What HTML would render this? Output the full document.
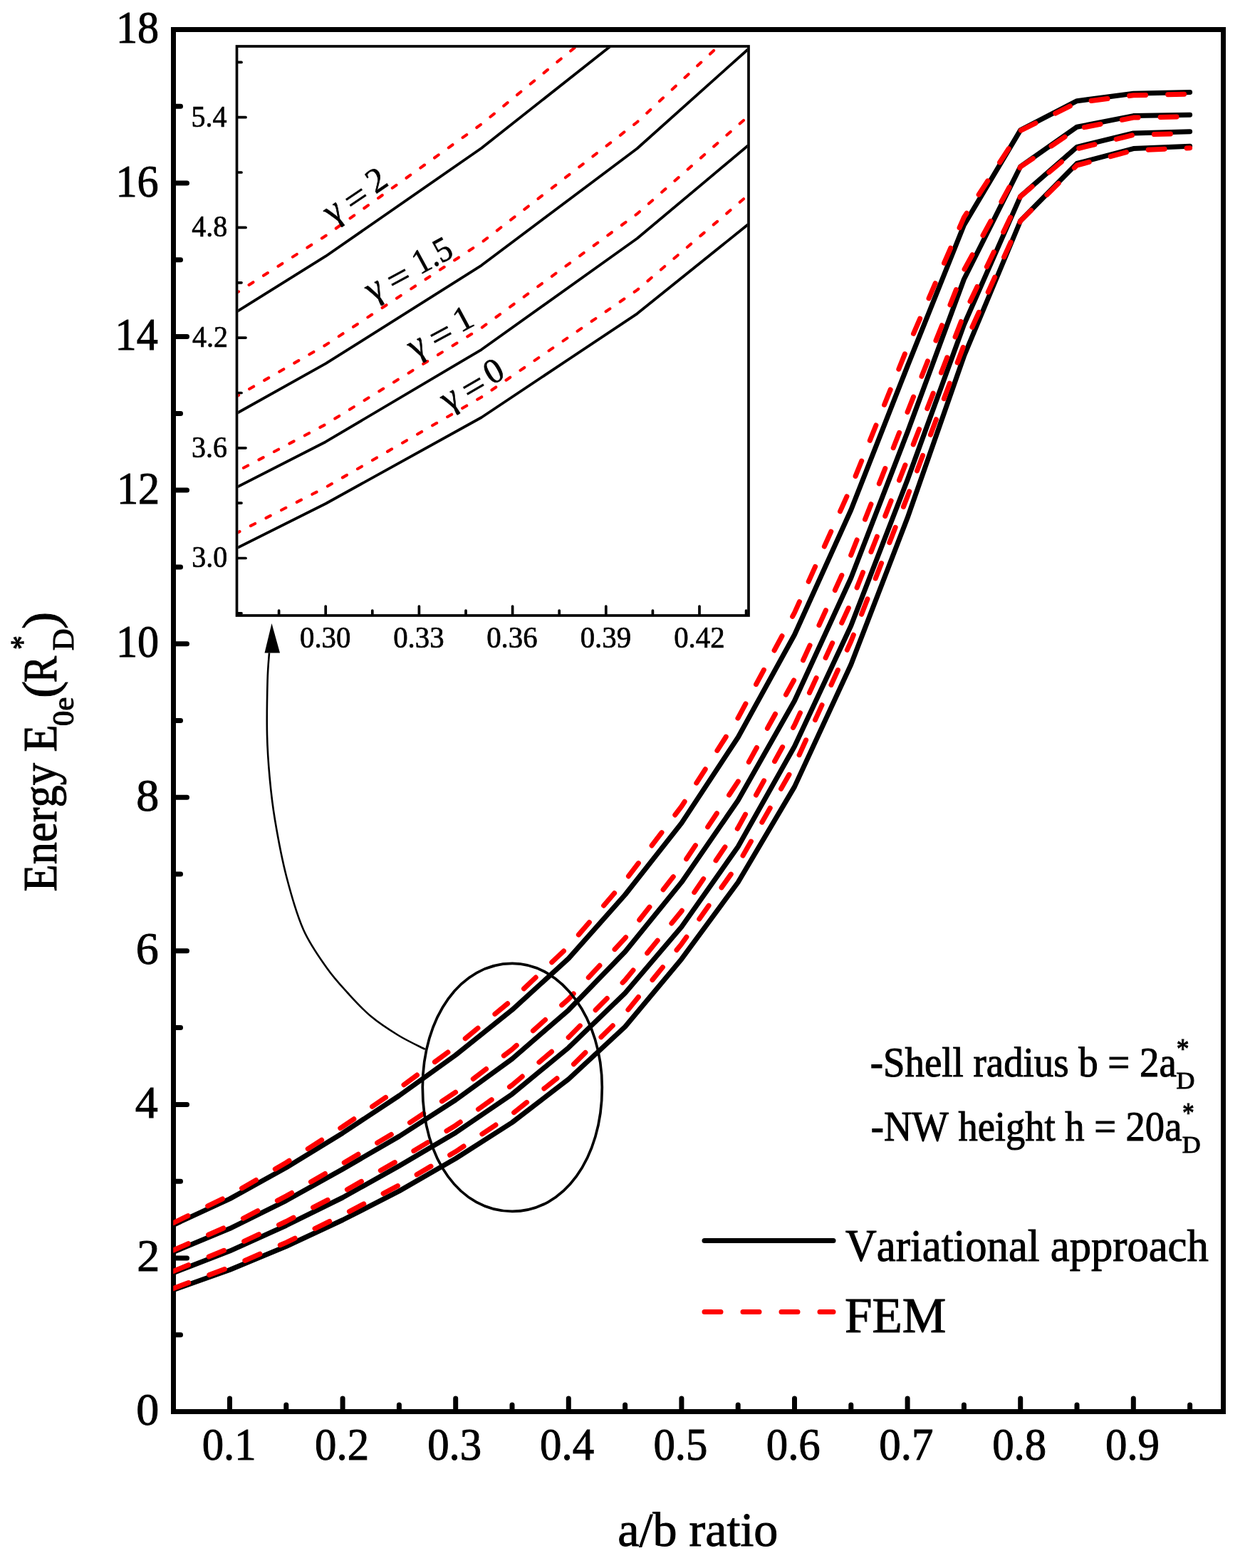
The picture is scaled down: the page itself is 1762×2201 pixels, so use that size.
<!DOCTYPE html><html><head><meta charset="utf-8"><style>html,body{margin:0;padding:0;background:#fff;overflow:hidden}svg{display:block}</style></head><body><svg xmlns="http://www.w3.org/2000/svg" width="1762" height="2201" viewBox="0 0 1762 2201">
<defs><clipPath id="ic"><rect x="334.3" y="66.8" width="714.9" height="795.4"/></clipPath><clipPath id="mc"><rect x="243.2" y="0" width="1500" height="2201"/></clipPath></defs>
<rect width="1762" height="2201" fill="#fff"/>
<g stroke="#000" stroke-width="7" fill="none">
<rect x="243.5" y="41.5" width="1474" height="1940"/>
<line x1="322.5" y1="1978" x2="322.5" y2="1963" stroke-linecap="round"/>
<line x1="481.1" y1="1978" x2="481.1" y2="1963" stroke-linecap="round"/>
<line x1="639.7" y1="1978" x2="639.7" y2="1963" stroke-linecap="round"/>
<line x1="798.3" y1="1978" x2="798.3" y2="1963" stroke-linecap="round"/>
<line x1="956.9" y1="1978" x2="956.9" y2="1963" stroke-linecap="round"/>
<line x1="1115.5" y1="1978" x2="1115.5" y2="1963" stroke-linecap="round"/>
<line x1="1274.1" y1="1978" x2="1274.1" y2="1963" stroke-linecap="round"/>
<line x1="1432.7" y1="1978" x2="1432.7" y2="1963" stroke-linecap="round"/>
<line x1="1591.3" y1="1978" x2="1591.3" y2="1963" stroke-linecap="round"/>
<line x1="401.8" y1="1978" x2="401.8" y2="1972" stroke-linecap="round"/>
<line x1="560.4" y1="1978" x2="560.4" y2="1972" stroke-linecap="round"/>
<line x1="719.0" y1="1978" x2="719.0" y2="1972" stroke-linecap="round"/>
<line x1="877.6" y1="1978" x2="877.6" y2="1972" stroke-linecap="round"/>
<line x1="1036.2" y1="1978" x2="1036.2" y2="1972" stroke-linecap="round"/>
<line x1="1194.8" y1="1978" x2="1194.8" y2="1972" stroke-linecap="round"/>
<line x1="1353.4" y1="1978" x2="1353.4" y2="1972" stroke-linecap="round"/>
<line x1="1512.0" y1="1978" x2="1512.0" y2="1972" stroke-linecap="round"/>
<line x1="1670.6" y1="1978" x2="1670.6" y2="1972" stroke-linecap="round"/>
<line x1="247" y1="1873.7" x2="253.5" y2="1873.7" stroke-linecap="round"/>
<line x1="247" y1="1765.9" x2="262.5" y2="1765.9" stroke-linecap="round"/>
<line x1="247" y1="1658.2" x2="253.5" y2="1658.2" stroke-linecap="round"/>
<line x1="247" y1="1550.4" x2="262.5" y2="1550.4" stroke-linecap="round"/>
<line x1="247" y1="1442.6" x2="253.5" y2="1442.6" stroke-linecap="round"/>
<line x1="247" y1="1334.8" x2="262.5" y2="1334.8" stroke-linecap="round"/>
<line x1="247" y1="1227.0" x2="253.5" y2="1227.0" stroke-linecap="round"/>
<line x1="247" y1="1119.3" x2="262.5" y2="1119.3" stroke-linecap="round"/>
<line x1="247" y1="1011.5" x2="253.5" y2="1011.5" stroke-linecap="round"/>
<line x1="247" y1="903.7" x2="262.5" y2="903.7" stroke-linecap="round"/>
<line x1="247" y1="795.9" x2="253.5" y2="795.9" stroke-linecap="round"/>
<line x1="247" y1="688.1" x2="262.5" y2="688.1" stroke-linecap="round"/>
<line x1="247" y1="580.4" x2="253.5" y2="580.4" stroke-linecap="round"/>
<line x1="247" y1="472.6" x2="262.5" y2="472.6" stroke-linecap="round"/>
<line x1="247" y1="364.8" x2="253.5" y2="364.8" stroke-linecap="round"/>
<line x1="247" y1="257.0" x2="262.5" y2="257.0" stroke-linecap="round"/>
<line x1="247" y1="149.2" x2="253.5" y2="149.2" stroke-linecap="round"/>
</g>
<g clip-path="url(#mc)" fill="none" stroke-linejoin="round" stroke-linecap="round">
<polyline points="243.2,1810.7 322.5,1782.5 401.8,1749.5 481.1,1712.5 560.4,1671.9 639.7,1626.2 719.0,1575.6 798.3,1514.7 877.6,1441.2 956.9,1346.2 1036.2,1238.5 1115.5,1104.4 1194.8,932.8 1274.1,726.8 1353.4,500.0 1432.7,310.0 1512.0,229.5 1591.3,208.6 1670.6,205.2" stroke="#000" stroke-width="7"/>
<polyline points="243.2,1786.7 322.5,1756.1 401.8,1720.2 481.1,1681.0 560.4,1636.6 639.7,1589.9 719.0,1535.8 798.3,1470.6 877.6,1394.0 956.9,1301.0 1036.2,1188.5 1115.5,1047.8 1194.8,878.3 1274.1,673.5 1353.4,455.9 1432.7,275.6 1512.0,206.4 1591.3,186.9 1670.6,184.7" stroke="#000" stroke-width="7"/>
<polyline points="243.2,1757.5 322.5,1724.6 401.8,1685.3 481.1,1641.1 560.4,1595.1 639.7,1544.0 719.0,1486.4 798.3,1417.8 877.6,1336.0 956.9,1238.4 1036.2,1123.5 1115.5,983.8 1194.8,811.3 1274.1,606.6 1353.4,392.0 1432.7,233.8 1512.0,178.2 1591.3,162.6 1670.6,161.2" stroke="#000" stroke-width="7"/>
<polyline points="243.2,1719.5 322.5,1682.9 401.8,1639.0 481.1,1590.4 560.4,1538.0 639.7,1481.0 719.0,1417.6 798.3,1345.4 877.6,1256.0 956.9,1155.4 1036.2,1035.0 1115.5,891.0 1194.8,715.7 1274.1,513.9 1353.4,316.0 1432.7,182.6 1512.0,141.7 1591.3,131.3 1670.6,129.5" stroke="#000" stroke-width="7"/>
<polyline points="243.2,1808.6 322.5,1778.8 401.8,1744.1 481.1,1705.6 560.4,1663.5 639.7,1616.6 719.0,1563.7 798.3,1500.8 877.6,1422.6 956.9,1325.1 1036.2,1213.1 1115.5,1074.1 1194.8,900.3 1274.1,696.8 1353.4,484.4 1432.7,310.0 1512.0,232.0 1591.3,211.1 1670.6,207.7" stroke="#f00" stroke-width="7" stroke-linecap="round" stroke-dasharray="23 31"/>
<polyline points="243.2,1784.4 322.5,1752.0 401.8,1714.5 481.1,1673.4 560.4,1628.1 639.7,1579.7 719.0,1523.1 798.3,1456.1 877.6,1375.8 956.9,1279.0 1036.2,1161.9 1115.5,1017.9 1194.8,846.0 1274.1,644.7 1353.4,441.1 1432.7,275.8 1512.0,208.9 1591.3,189.4 1670.6,187.2" stroke="#f00" stroke-width="7" stroke-linecap="round" stroke-dasharray="23 31"/>
<polyline points="243.2,1755.0 322.5,1720.1 401.8,1678.9 481.1,1633.3 560.4,1585.8 639.7,1533.1 719.0,1473.0 798.3,1402.3 877.6,1316.9 956.9,1215.9 1036.2,1097.1 1115.5,953.3 1194.8,779.0 1274.1,578.2 1353.4,379.0 1432.7,234.2 1512.0,180.7 1591.3,165.1 1670.6,163.7" stroke="#f00" stroke-width="7" stroke-linecap="round" stroke-dasharray="23 31"/>
<polyline points="243.2,1716.7 322.5,1677.9 401.8,1632.0 481.1,1581.5 560.4,1527.6 639.7,1469.0 719.0,1403.5 798.3,1328.5 877.6,1236.3 956.9,1131.9 1036.2,1007.8 1115.5,860.1 1194.8,683.9 1274.1,487.7 1353.4,305.1 1432.7,183.3 1512.0,144.2 1591.3,133.8 1670.6,132.0" stroke="#f00" stroke-width="7" stroke-linecap="round" stroke-dasharray="23 31"/>
</g>
<g font-family="Liberation Serif, 'Times New Roman', serif" fill="#000" stroke="#000" stroke-width="1.0" style="font-kerning:none">
<text x="191.24" y="2000.00" font-size="64" textLength="32.00" lengthAdjust="spacingAndGlyphs">0</text>
<text x="192.33" y="1784.44" font-size="64" textLength="32.00" lengthAdjust="spacingAndGlyphs">2</text>
<text x="189.80" y="1568.88" font-size="64" textLength="32.00" lengthAdjust="spacingAndGlyphs">4</text>
<text x="190.71" y="1353.32" font-size="64" textLength="32.00" lengthAdjust="spacingAndGlyphs">6</text>
<text x="191.24" y="1137.76" font-size="64" textLength="32.00" lengthAdjust="spacingAndGlyphs">8</text>
<text x="162.93" y="922.20" font-size="64" textLength="60.16" lengthAdjust="spacingAndGlyphs">10</text>
<text x="163.96" y="706.64" font-size="64" textLength="60.16" lengthAdjust="spacingAndGlyphs">12</text>
<text x="161.58" y="491.08" font-size="64" textLength="60.16" lengthAdjust="spacingAndGlyphs">14</text>
<text x="162.43" y="275.52" font-size="64" textLength="60.16" lengthAdjust="spacingAndGlyphs">16</text>
<text x="162.93" y="59.96" font-size="64" textLength="60.16" lengthAdjust="spacingAndGlyphs">18</text>
<text x="283.67" y="2049.00" font-size="64" textLength="76.00" lengthAdjust="spacingAndGlyphs">0.1</text>
<text x="442.12" y="2049.00" font-size="64" textLength="76.00" lengthAdjust="spacingAndGlyphs">0.2</text>
<text x="600.23" y="2049.00" font-size="64" textLength="76.00" lengthAdjust="spacingAndGlyphs">0.3</text>
<text x="758.12" y="2049.00" font-size="64" textLength="76.00" lengthAdjust="spacingAndGlyphs">0.4</text>
<text x="917.43" y="2049.00" font-size="64" textLength="76.00" lengthAdjust="spacingAndGlyphs">0.5</text>
<text x="1075.75" y="2049.00" font-size="64" textLength="76.00" lengthAdjust="spacingAndGlyphs">0.6</text>
<text x="1234.32" y="2049.00" font-size="64" textLength="76.00" lengthAdjust="spacingAndGlyphs">0.7</text>
<text x="1393.20" y="2049.00" font-size="64" textLength="76.00" lengthAdjust="spacingAndGlyphs">0.8</text>
<text x="1551.89" y="2049.00" font-size="64" textLength="76.00" lengthAdjust="spacingAndGlyphs">0.9</text>
<text x="867.31" y="2170.30" font-size="68.3" textLength="225.09" lengthAdjust="spacingAndGlyphs">a/b ratio</text>
<g transform="rotate(-90)">
<text x="-1251.50" y="79.00" font-size="68.3" textLength="234.21" lengthAdjust="spacingAndGlyphs">Energy E</text>
<text x="-1019.24" y="103.00" font-size="43" textLength="40.74" lengthAdjust="spacingAndGlyphs">0e</text>
<text x="-979.90" y="80.00" font-size="70" textLength="24.25" lengthAdjust="spacingAndGlyphs">(</text>
<text x="-958.32" y="79.00" font-size="68.3" textLength="37.40" lengthAdjust="spacingAndGlyphs">R</text>
<text x="-911.94" y="47.18" font-size="46" textLength="19.84" lengthAdjust="spacingAndGlyphs">*</text>
<text x="-913.23" y="103.00" font-size="43" textLength="30.95" lengthAdjust="spacingAndGlyphs">D</text>
<text x="-883.05" y="80.00" font-size="70" textLength="24.25" lengthAdjust="spacingAndGlyphs">)</text>
</g>
<text x="1221.87" y="1511.00" font-size="58.5" textLength="429.88" lengthAdjust="spacingAndGlyphs">-Shell radius b = 2a</text>
<text x="1651.67" y="1484.54" font-size="39" textLength="17.73" lengthAdjust="spacingAndGlyphs">*</text>
<text x="1651.57" y="1528.30" font-size="33.3" textLength="25.87" lengthAdjust="spacingAndGlyphs">D</text>
<text x="1222.78" y="1601.00" font-size="58.5" textLength="436.57" lengthAdjust="spacingAndGlyphs">-NW height h = 20a</text>
<text x="1660.07" y="1574.54" font-size="39" textLength="16.74" lengthAdjust="spacingAndGlyphs">*</text>
<text x="1659.87" y="1618.30" font-size="33.3" textLength="25.87" lengthAdjust="spacingAndGlyphs">D</text>
<text x="1187.12" y="1770.00" font-size="62.6" textLength="509.68" lengthAdjust="spacingAndGlyphs">Variational approach</text>
<text x="1185.91" y="1870.10" font-size="70.5" textLength="142.32" lengthAdjust="spacingAndGlyphs">FEM</text>
</g>
<rect x="332.5" y="65" width="718.5" height="799" fill="#fff" stroke="none"/>
<g clip-path="url(#ic)" fill="none" stroke-linejoin="round">
<polyline points="-636.1,1148.4 -417.5,1080.9 -198.8,1002.0 19.9,913.5 238.5,816.4 457.2,707.0 675.9,586.0 894.5,440.3 1113.2,264.5 1331.9,37.2 1550.5,-220.4 1769.2,-541.2 1987.9,-951.7 2206.5,-1444.5 2425.2,-1987.1 2643.9,-2441.6 2862.5,-2634.2 3081.2,-2684.2 3299.9,-2692.3" stroke="#000" stroke-width="3.8"/>
<polyline points="-636.1,1091.0 -417.5,1017.8 -198.8,931.9 19.9,838.1 238.5,731.9 457.2,620.2 675.9,490.8 894.5,334.8 1113.2,151.6 1331.9,-70.9 1550.5,-340.0 1769.2,-676.6 1987.9,-1082.1 2206.5,-1572.0 2425.2,-2092.6 2643.9,-2523.9 2862.5,-2689.4 3081.2,-2736.1 3299.9,-2741.3" stroke="#000" stroke-width="3.8"/>
<polyline points="-636.1,1021.1 -417.5,942.4 -198.8,848.4 19.9,742.7 238.5,632.6 457.2,510.4 675.9,372.6 894.5,208.5 1113.2,12.8 1331.9,-220.7 1550.5,-495.5 1769.2,-829.7 1987.9,-1242.4 2206.5,-1732.1 2425.2,-2245.4 2643.9,-2623.9 2862.5,-2756.9 3081.2,-2794.2 3299.9,-2797.6" stroke="#000" stroke-width="3.8"/>
<polyline points="-636.1,930.2 -417.5,842.7 -198.8,737.7 19.9,621.4 238.5,496.1 457.2,359.7 675.9,208.0 894.5,35.3 1113.2,-178.6 1331.9,-419.2 1550.5,-707.2 1769.2,-1051.7 1987.9,-1471.1 2206.5,-1953.8 2425.2,-2427.2 2643.9,-2746.4 2862.5,-2844.2 3081.2,-2869.1 3299.9,-2873.4" stroke="#000" stroke-width="3.8"/>
<polyline points="-636.1,1143.3 -417.5,1072.0 -198.8,989.2 19.9,897.0 238.5,796.4 457.2,684.1 675.9,557.5 894.5,407.1 1113.2,220.1 1331.9,-13.1 1550.5,-281.1 1769.2,-613.7 1987.9,-1029.4 2206.5,-1516.4 2425.2,-2024.3 2643.9,-2441.6 2862.5,-2628.2 3081.2,-2678.2 3299.9,-2686.3" stroke="#f00" stroke-width="4.1" stroke-linecap="round" stroke-dasharray="7 17.3"/>
<polyline points="-636.1,1085.5 -417.5,1008.0 -198.8,918.3 19.9,820.1 238.5,711.5 457.2,595.7 675.9,460.3 894.5,300.2 1113.2,108.1 1331.9,-123.5 1550.5,-403.7 1769.2,-748.2 1987.9,-1159.3 2206.5,-1640.9 2425.2,-2127.9 2643.9,-2523.4 2862.5,-2683.4 3081.2,-2730.1 3299.9,-2735.4" stroke="#f00" stroke-width="4.1" stroke-linecap="round" stroke-dasharray="7 17.3"/>
<polyline points="-636.1,1015.2 -417.5,931.8 -198.8,833.1 19.9,724.0 238.5,610.3 457.2,484.3 675.9,340.5 894.5,171.5 1113.2,-32.8 1331.9,-274.4 1550.5,-558.7 1769.2,-902.6 1987.9,-1319.6 2206.5,-1800.0 2425.2,-2276.5 2643.9,-2622.8 2862.5,-2750.9 3081.2,-2788.2 3299.9,-2791.6" stroke="#f00" stroke-width="4.1" stroke-linecap="round" stroke-dasharray="7 17.3"/>
<polyline points="-636.1,923.6 -417.5,830.8 -198.8,720.8 19.9,600.1 238.5,471.1 457.2,331.0 675.9,174.3 894.5,-5.1 1113.2,-225.6 1331.9,-475.5 1550.5,-772.4 1769.2,-1125.7 1987.9,-1547.2 2206.5,-2016.5 2425.2,-2453.4 2643.9,-2744.6 2862.5,-2838.2 3081.2,-2863.1 3299.9,-2867.4" stroke="#f00" stroke-width="4.1" stroke-linecap="round" stroke-dasharray="7 17.3"/>
</g>
<g stroke="#000" stroke-width="3.7" fill="none">
<rect x="332.5" y="65" width="718.5" height="799"/>
<line x1="457.2" y1="862" x2="457.2" y2="851" stroke-linecap="round"/>
<line x1="588.4" y1="862" x2="588.4" y2="851" stroke-linecap="round"/>
<line x1="719.6" y1="862" x2="719.6" y2="851" stroke-linecap="round"/>
<line x1="850.8" y1="862" x2="850.8" y2="851" stroke-linecap="round"/>
<line x1="982.0" y1="862" x2="982.0" y2="851" stroke-linecap="round"/>
<line x1="391.6" y1="862" x2="391.6" y2="857" stroke-linecap="round"/>
<line x1="522.8" y1="862" x2="522.8" y2="857" stroke-linecap="round"/>
<line x1="654.0" y1="862" x2="654.0" y2="857" stroke-linecap="round"/>
<line x1="785.2" y1="862" x2="785.2" y2="857" stroke-linecap="round"/>
<line x1="916.4" y1="862" x2="916.4" y2="857" stroke-linecap="round"/>
<line x1="1047.6" y1="862" x2="1047.6" y2="857" stroke-linecap="round"/>
<line x1="334" y1="164.7" x2="345" y2="164.7" stroke-linecap="round"/>
<line x1="334" y1="319.4" x2="345" y2="319.4" stroke-linecap="round"/>
<line x1="334" y1="474.1" x2="345" y2="474.1" stroke-linecap="round"/>
<line x1="334" y1="628.8" x2="345" y2="628.8" stroke-linecap="round"/>
<line x1="334" y1="783.5" x2="345" y2="783.5" stroke-linecap="round"/>
<line x1="334" y1="87.4" x2="339" y2="87.4" stroke-linecap="round"/>
<line x1="334" y1="242.0" x2="339" y2="242.0" stroke-linecap="round"/>
<line x1="334" y1="396.8" x2="339" y2="396.8" stroke-linecap="round"/>
<line x1="334" y1="551.5" x2="339" y2="551.5" stroke-linecap="round"/>
<line x1="334" y1="706.1" x2="339" y2="706.1" stroke-linecap="round"/>
<line x1="334" y1="860.8" x2="339" y2="860.8" stroke-linecap="round"/>
</g>
<g font-family="Liberation Serif, 'Times New Roman', serif" fill="#000" stroke="#000" stroke-width="0.70" style="font-kerning:none">
<text x="268.44" y="177.50" font-size="43" textLength="49.99" lengthAdjust="spacingAndGlyphs">5.4</text>
<text x="269.34" y="332.20" font-size="43" textLength="49.99" lengthAdjust="spacingAndGlyphs">4.8</text>
<text x="270.02" y="486.90" font-size="43" textLength="49.99" lengthAdjust="spacingAndGlyphs">4.2</text>
<text x="269.00" y="641.60" font-size="43" textLength="49.99" lengthAdjust="spacingAndGlyphs">3.6</text>
<text x="269.34" y="796.30" font-size="43" textLength="49.99" lengthAdjust="spacingAndGlyphs">3.0</text>
<text x="421.00" y="908.50" font-size="42.5" textLength="71.40" lengthAdjust="spacingAndGlyphs">0.30</text>
<text x="552.22" y="908.50" font-size="42.5" textLength="71.40" lengthAdjust="spacingAndGlyphs">0.33</text>
<text x="683.23" y="908.50" font-size="42.5" textLength="71.40" lengthAdjust="spacingAndGlyphs">0.36</text>
<text x="814.66" y="908.50" font-size="42.5" textLength="71.40" lengthAdjust="spacingAndGlyphs">0.39</text>
<text x="946.15" y="908.50" font-size="42.5" textLength="71.40" lengthAdjust="spacingAndGlyphs">0.42</text>
<g transform="translate(499.9,277.2) rotate(-34)"><text x="-48.70" y="12.80" font-size="50">γ</text><text x="-15.82" y="16.60" font-size="50" textLength="31.58" lengthAdjust="spacingAndGlyphs">=</text><text x="25.30" y="11.60" font-size="49" textLength="24.50" lengthAdjust="spacingAndGlyphs">2</text></g>
<g transform="translate(559.5,389.4) rotate(-28.5)"><text x="-48.70" y="12.80" font-size="50">γ</text><text x="-15.82" y="16.60" font-size="50" textLength="31.58" lengthAdjust="spacingAndGlyphs">=</text><text x="28.05" y="11.40" font-size="49" textLength="56.11" lengthAdjust="spacingAndGlyphs">1.5</text></g>
<g transform="translate(619,469.6) rotate(-28.3)"><text x="-48.70" y="12.80" font-size="50">γ</text><text x="-15.82" y="16.60" font-size="50" textLength="31.58" lengthAdjust="spacingAndGlyphs">=</text><text x="25.55" y="11.00" font-size="49" textLength="24.50" lengthAdjust="spacingAndGlyphs">1</text></g>
<g transform="translate(664.9,542.3) rotate(-30)"><text x="-48.70" y="12.80" font-size="50">γ</text><text x="-15.82" y="16.60" font-size="50" textLength="31.58" lengthAdjust="spacingAndGlyphs">=</text><text x="22.55" y="11.60" font-size="49" textLength="24.50" lengthAdjust="spacingAndGlyphs">0</text></g>
</g>
<path d="M719.3,1352.4 C788.852,1352.4 845.3,1430.352 845.3,1526.4 C845.3,1626.45 791.75,1700.4 719.3,1700.4 C646.2199999999999,1700.4 593.3,1627.3200000000002 593.3,1526.4 C593.3,1426.872 647.228,1352.4 719.3,1352.4Z" fill="none" stroke="#000" stroke-width="3.7"/>
<path d="M596.7,1472.8 C590.5,1469.6 572.2,1461.2 559.6,1453.5 C547.0,1445.8 532.9,1436.7 521,1426.8 C509.1,1416.9 498.8,1405.4 488.4,1394 C478.0,1382.6 469.1,1373.3 458.7,1358.5 C448.3,1343.7 435.4,1326.2 426,1305 C416.6,1283.8 409.0,1256.7 402.3,1231 C395.6,1205.3 389.9,1174.1 386,1150.8 C382.1,1127.5 380.4,1111.2 378.6,1091.4 C376.8,1071.6 375.5,1054.7 375,1032 C374.5,1009.3 375.1,974.3 375.6,955 C376.1,935.7 377.6,922.8 378,916.4" fill="none" stroke="#000" stroke-width="2.6"/>
<polygon points="381.5,875 371.5,916.5 393,916.5" fill="#000"/>
<line x1="989" y1="1741.5" x2="1170" y2="1741.5" stroke="#000" stroke-width="7" stroke-linecap="round"/>
<line x1="989" y1="1841.5" x2="1170" y2="1841.5" stroke="#f00" stroke-width="7" stroke-linecap="round" stroke-dasharray="23 31"/>
</svg></body></html>
